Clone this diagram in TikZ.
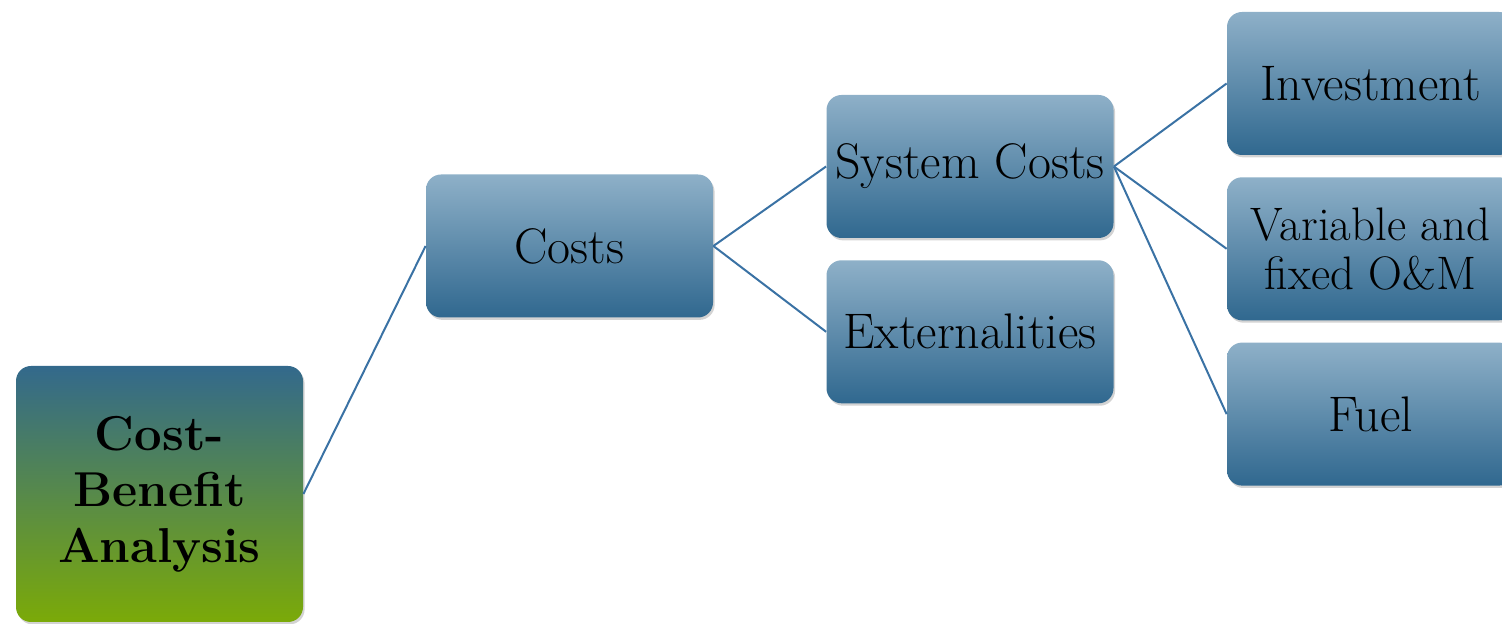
\documentclass[tikz,border=0pt]{standalone}
\usepackage{fontspec}
\usepackage{xcolor}
\usepackage{tikz}
\usetikzlibrary{positioning, shadows}

\definecolor{boxtop}{HTML}{8EB0C8}
\definecolor{boxbot}{HTML}{30688F}
\definecolor{roottop}{HTML}{33698C}
\definecolor{rootbot}{HTML}{7BAA08}
\definecolor{linkblue}{HTML}{3A72A4}

\begin{document}
\begin{tikzpicture}[
    x=0.5pt, y=0.5pt,
    node distance=10.75pt,
    box/.style={
        rectangle,
        rounded corners=7.5pt,
        top color=boxtop,
        bottom color=boxbot,
        minimum width=143.5pt,
        minimum height=71.5pt,
        inner sep=2pt,
        align=center,
        font=\fontsize{25}{24.5}\selectfont,
        drop shadow={shadow xshift=0.8pt, shadow yshift=-1.2pt, opacity=0.35}
    },
    rootbox/.style={
        box,
        top color=roottop,
        bottom color=rootbot,
        minimum height=128pt,
        font=\bfseries\fontsize{24.5}{28}\selectfont
    },
    link/.style={draw=linkblue, line width=1pt}
]
\useasboundingbox (0,0) rectangle (1502,624);

\node[rootbox] (cba) at (159.5,130) {Cost-\\Benefit\\Analysis};
\node[box] (costs) at (569.5,378) {Costs};
\node[box] (sys) at (970,457.5) {System Costs};
\node[box, below=of sys] (ext) {Externalities};
\node[box] (inv) at (1370.5,540.5) {Investment};
\node[box, below=of inv, font=\fontsize{23.5}{24.5}\selectfont] (varom) {Variable and\\fixed O\&M};
\node[box, below=of varom] (fuel) {Fuel};

\draw[link] (cba.east) -- (costs.west);
\draw[link] (costs.east) -- (sys.west);
\draw[link] (costs.east) -- (ext.west);
\draw[link] (sys.east) -- (inv.west);
\draw[link] (sys.east) -- (varom.west);
\draw[link] (sys.east) -- (fuel.west);

\end{tikzpicture}
\end{document}
